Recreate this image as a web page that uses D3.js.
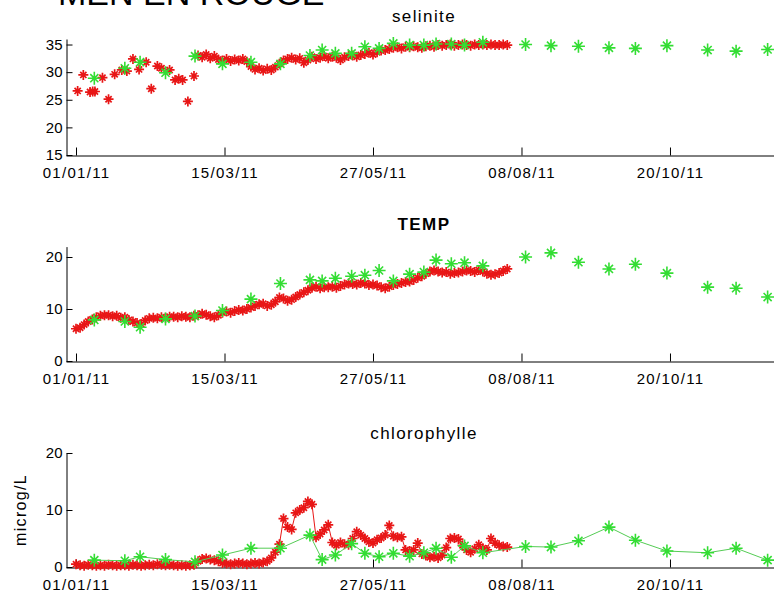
<!DOCTYPE html>
<html><head><meta charset="utf-8">
<script src="https://cdn.jsdelivr.net/npm/d3@7"></script>
<style>
html,body{margin:0;padding:0;background:#fff;overflow:hidden}
text{font-family:"Liberation Sans",Arial,Helvetica,sans-serif;fill:#000}
</style></head><body>
<svg id="chart" width="774" height="597"></svg>
<script>
// Days are counted from 1 January 2011.
const tickDates  = ["2011-01-01","2011-03-15","2011-05-27","2011-08-08","2011-10-20"];
const tickLabels = ["01/01/11","15/03/11","27/05/11","08/08/11","20/10/11"];

// Bottle samples (green)
const greenDays = [9,24,31.5,44,58.5,72,86,100.5,115,121,127.5,135.5,142,149,156,164,171,177,184.5,191,200,221,233.5,247,262,275,290.5,310.5,324.5,340];
const greenSal  = [28.9,30.7,31.8,29.9,32.9,31.5,31.8,31.5,33.0,34.0,33.4,33.4,34.6,34.3,35.2,34.9,34.9,35.1,35.1,34.9,35.4,35.0,34.8,34.7,34.4,34.3,34.8,34.0,33.8,34.1];
const greenTemp = [7.9,7.6,6.5,8.1,8.65,9.7,11.9,14.9,15.6,15.4,15.9,16.3,16.5,17.4,15.4,16.7,17.1,19.4,18.7,18.9,18.3,20.0,20.8,19.0,17.7,18.6,16.9,14.2,14.0,12.3];
const greenChl  = [1.2,1.1,1.8,1.3,0.9,2.1,3.3,3.3,5.6,1.3,2.1,4.1,2.4,1.8,2.4,1.9,2.5,3.3,1.7,3.7,2.5,3.6,3.5,4.6,7.0,4.7,2.8,2.5,3.3,1.2];

// Moored sensor (red): salinity is sparse until early March
const redSalEarlyDays = [0.8,3.6,6.9,8.2,9.3,13,16,19,22.5,25,28,31,34.5,37,40,42,46,48.7,50.5,52.4,55,58];
const redSalEarly     = [26.6,29.5,26.4,26.5,26.5,29.0,25.1,29.6,30.4,30.2,32.4,30.5,31.8,27.0,31.1,30.7,30.4,28.6,28.8,28.6,24.7,29.3];
const redSalDenseDays = d3.range(60, 213, 2);
const redSalDense = [
  33.0,32.7,33.2,32.5,32.9,32.3,32.1,32.4,32.0,32.3,
  32.1,32.4,31.9,31.0,30.5,30.7,30.3,30.6,30.4,30.9,
  31.5,32.1,32.4,32.6,32.3,32.5,31.7,32.2,32.8,32.4,
  32.6,32.9,32.5,32.8,32.6,32.2,32.7,32.9,33.0,32.8,
  33.1,33.3,33.5,33.2,33.6,33.9,34.0,34.2,34.4,34.5,
  34.3,34.6,34.5,34.7,34.5,34.4,34.7,34.8,34.6,34.9,
  34.8,34.9,35.0,34.8,34.9,35.0,34.9,34.8,35.0,34.9,
  35.0,34.9,35.0,34.9,34.9,35.0,34.9];

const redDays = d3.range(0, 213, 2);
const redTemp = [
  6.2,6.4,7.0,7.6,8.0,8.4,8.7,8.8,8.8,8.6,
  8.7,8.3,8.4,7.9,7.6,7.3,7.1,7.8,8.2,8.3,
  8.2,8.4,8.3,8.5,8.5,8.4,8.6,8.5,8.4,8.7,
  8.8,9.1,8.9,8.6,8.4,8.8,9.3,9.5,9.3,9.6,
  9.8,9.7,10.0,10.3,10.6,10.9,11.0,10.6,10.8,11.4,
  12.2,12.0,11.6,11.8,12.3,12.8,13.2,13.6,14.1,14.3,
  14.0,14.2,14.2,14.3,14.1,14.4,14.7,14.9,14.8,14.7,
  15.0,14.9,14.6,14.7,14.5,14.2,14.0,14.3,14.6,14.8,
  15.0,15.2,15.3,15.6,16.0,16.3,16.8,17.2,17.4,17.2,
  17.0,17.1,16.8,16.9,17.0,17.2,17.4,17.3,17.1,17.5,
  17.2,16.8,16.6,16.7,16.9,17.3,17.7];
const redChl = [
  0.5,0.3,0.2,0.4,0.3,0.2,0.3,0.2,0.4,0.3,
  0.2,0.3,0.3,0.2,0.4,0.3,0.2,0.3,0.4,0.3,
  0.5,0.4,0.3,0.4,0.3,0.2,0.3,0.2,0.3,0.4,
  1.0,1.4,1.5,1.3,1.2,1.0,0.7,0.6,0.5,0.6,
  0.7,0.6,0.5,0.6,0.7,0.6,0.8,1.0,1.6,2.6,
  4.0,8.5,7.0,6.6,9.5,10.0,10.4,11.5,11.0,5.2,
  5.8,6.5,7.4,4.3,3.8,4.3,4.0,3.9,5.0,6.2,
  5.6,5.0,4.4,4.2,4.8,5.1,5.6,7.3,5.4,5.2,
  5.3,3.0,2.8,3.0,4.2,2.3,2.0,1.7,1.8,1.6,
  2.1,3.4,5.0,5.1,4.9,3.8,3.0,2.6,3.2,3.9,
  3.3,3.0,5.0,4.2,3.8,3.6,3.5];

const salTicks  = [15,20,25,30,35];
const tempTicks = [0,10,20];
const chlTicks  = [0,10,20];

const RED = "#e81616", GREEN = "#33dd33";
const t0 = new Date(Date.UTC(2011,0,1));
const dayToDate = d => new Date(t0.getTime() + d*864e5);

const svg = d3.select("#chart");

// shared time axis (runs slightly past the right edge of the figure)
const x = d3.scaleUtc()
  .domain([dayToDate(-4.92), dayToDate(345.1)])
  .range([66, 778]);

function asterisk(r){
  const d = r*0.62;
  return `M${-r},0H${r}M0,${-r}V${r}M${-d},${-d}L${d},${d}M${-d},${d}L${d},${-d}`;
}

function panel(cfg){
  const y = d3.scaleLinear().domain(cfg.yDomain).range([cfg.bottom, cfg.top]);
  const g = svg.append("g");

  // title
  g.append("text")
    .attr("x", 424).attr("y", cfg.titleY)
    .attr("text-anchor","middle")
    .style("font-size","17px")
    .style("letter-spacing","1.4px")
    .style("font-weight", cfg.bold ? "bold" : "normal")
    .text(cfg.title);

  // axes
  const xa = g.append("g").attr("transform",`translate(0,${cfg.bottom+0.5})`)
    .call(d3.axisBottom(x).tickValues(tickDates.map(s=>new Date(s+"T00:00:00Z")))
      .tickFormat((d,i)=>tickLabels[i]).tickSizeInner(-8).tickSizeOuter(0).tickPadding(12));
  xa.select(".domain").attr("stroke","#000");
  xa.selectAll(".tick line").attr("stroke","#000");
  xa.selectAll(".tick text")
    .style("font-size","15px").style("letter-spacing","1.3px")
    .attr("font-family",null);

  const ya = g.append("g").attr("transform","translate(66.5,0)")
    .call(d3.axisLeft(y).tickValues(cfg.yTicks).tickSizeInner(-6).tickSizeOuter(0).tickPadding(4));
  ya.select(".domain").attr("stroke","#000");
  ya.selectAll(".tick line").attr("stroke","#000");
  ya.selectAll(".tick text").style("font-size","15px").attr("font-family",null);

  if (cfg.ylabel){
    g.append("text")
      .attr("transform",`translate(26,${(cfg.top+cfg.bottom)/2}) rotate(-90)`)
      .attr("text-anchor","middle")
      .style("font-size","16px").style("letter-spacing","1.3px")
      .text(cfg.ylabel);
  }

  // red series
  if (cfg.redLine){
    g.append("path")
      .datum(cfg.red)
      .attr("fill","none").attr("stroke",RED).attr("stroke-width",1)
      .attr("d", d3.line().x(p=>x(dayToDate(p[0]))).y(p=>y(p[1])));
  }
  g.append("g").selectAll("path").data(cfg.red).join("path")
    .attr("transform",p=>`translate(${x(dayToDate(p[0]))},${y(p[1])})`)
    .attr("d", asterisk(5))
    .attr("fill","none").attr("stroke",RED).attr("stroke-width",1.7);

  // green series
  if (cfg.greenLine){
    g.append("path")
      .datum(cfg.green)
      .attr("fill","none").attr("stroke","#55cc55").attr("stroke-width",1)
      .attr("d", d3.line().x(p=>x(dayToDate(p[0]))).y(p=>y(p[1])));
  }
  g.append("g").selectAll("path").data(cfg.green).join("path")
    .attr("transform",p=>`translate(${x(dayToDate(p[0]))},${y(p[1])})`)
    .attr("d", asterisk(6.5))
    .attr("fill","none").attr("stroke",GREEN).attr("stroke-width",1.6);
}

const zip = (a,b) => a.map((v,i)=>[v,b[i]]);

// heading across the top of the figure
svg.append("text")
  .attr("x", 58).attr("y", 5)
  .style("font-size","34px")
  .text("MEN EN ROUGE");

panel({
  title:"selinite", titleY:22, bold:false,
  yDomain:[15,36], top:39, bottom:155, yTicks:salTicks,
  red: zip(redSalEarlyDays, redSalEarly).concat(zip(redSalDenseDays, redSalDense)),
  green: zip(greenDays, greenSal)
});
panel({
  title:"TEMP", titleY:230, bold:true,
  yDomain:[0,22], top:246.6, bottom:361, yTicks:tempTicks,
  red: zip(redDays, redTemp),
  green: zip(greenDays, greenTemp)
});
panel({
  title:"chlorophylle", titleY:439, bold:false,
  yDomain:[0,20], top:453, bottom:567, yTicks:chlTicks, ylabel:"microg/L",
  red: zip(redDays, redChl), redLine:true,
  green: zip(greenDays, greenChl), greenLine:true
});
</script>
</body></html>
